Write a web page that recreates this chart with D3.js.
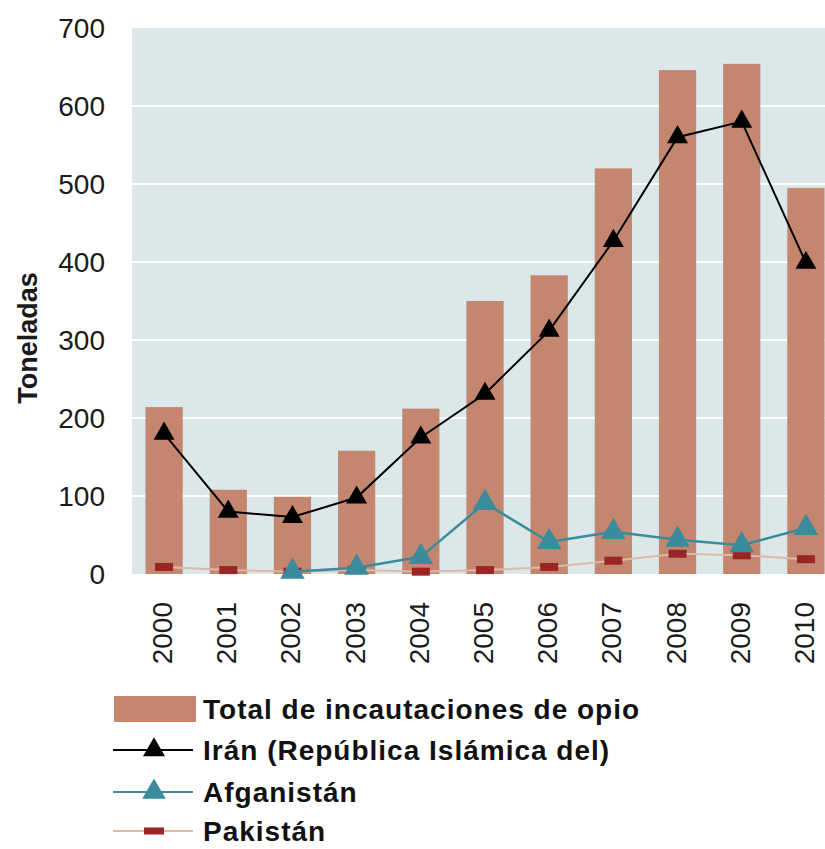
<!DOCTYPE html>
<html>
<head>
<meta charset="utf-8">
<script src="https://cdn.jsdelivr.net/npm/d3@7"></script>
<style>
  body { margin: 0; background: #fff; }
  text { font-family: "Liberation Sans", Arial, sans-serif; }
</style>
</head>
<body>
<div id="chart"></div>
<script>
// Data (toneladas)
var years = ["2000", "2001", "2002", "2003", "2004", "2005", "2006", "2007", "2008", "2009", "2010"];
var totalSeizures = [214, 108, 99, 158, 212, 350, 383, 520, 646, 654, 495];
var iran = [180, 80, 73, 98, 175, 231, 312, 427, 560, 580, 399];
var afghanistan = [null, null, 3, 8, 22, 91, 41, 54, 44, 37, 59];
var pakistan = [9, 5, 3, 5, 3, 5, 9, 17, 26, 24, 19];
var yTicks = [0, 100, 200, 300, 400, 500, 600, 700];
var legendLabels = ["Total de incautaciones de opio", "Irán (República Islámica del)", "Afganistán", "Pakistán"];

var width = 825, height = 849;
var plot = { left: 132, right: 838, top: 28, bottom: 574 };

var colBar = "#c4866e", colIran = "#000000", colAfg = "#3a8b9c",
    colPakLine = "#dcbaa9", colPakMark = "#9b2426", colBg = "#dbe7e9";

var svg = d3.select("#chart").append("svg")
    .attr("width", width)
    .attr("height", height);

var x = d3.scaleBand()
    .domain(years)
    .range([plot.left, plot.right])
    .paddingInner(0.42)
    .paddingOuter(0.21);

var y = d3.scaleLinear()
    .domain([0, 700])
    .range([plot.bottom, plot.top]);

var cx = function(i) { return x(years[i]) + x.bandwidth() / 2; };

// plot background
svg.append("rect")
    .attr("x", plot.left).attr("y", plot.top)
    .attr("width", plot.right - plot.left)
    .attr("height", plot.bottom - plot.top)
    .attr("fill", colBg);

// gridlines
svg.append("g").selectAll("line")
    .data(yTicks.filter(d => d > 0 && d < 700))
    .enter().append("line")
    .attr("x1", plot.left).attr("x2", plot.right)
    .attr("y1", d => y(d)).attr("y2", d => y(d))
    .attr("stroke", "#fff").attr("stroke-width", 2);

// y labels
svg.append("g").selectAll("text")
    .data(yTicks)
    .enter().append("text")
    .attr("x", 105)
    .attr("y", d => y(d))
    .attr("dy", "0.36em")
    .attr("text-anchor", "end")
    .attr("font-size", 28)
    .attr("fill", "#1a1a1a")
    .text(d => d);

svg.append("text")
    .attr("transform", "translate(37," + 338 + ") rotate(-90)")
    .attr("text-anchor", "middle")
    .attr("font-size", 27)
    .attr("font-weight", "bold")
    .attr("fill", "#1a1a1a")
    .text("Toneladas");

// x labels
svg.append("g").selectAll("text")
    .data(years)
    .enter().append("text")
    .attr("transform", d => "translate(" + (x(d) + x.bandwidth() / 2 + 8) + ",602) rotate(-90)")
    .attr("text-anchor", "end")
    .attr("font-size", 28)
    .attr("fill", "#1a1a1a")
    .text(d => d);

// bars
svg.append("g").selectAll("rect")
    .data(totalSeizures)
    .enter().append("rect")
    .attr("x", (d, i) => x(years[i]))
    .attr("y", d => y(d))
    .attr("width", x.bandwidth())
    .attr("height", d => y(0) - y(d))
    .attr("fill", colBar);

var line = d3.line()
    .defined(d => d.v != null)
    .x(d => cx(d.i))
    .y(d => y(d.v));

function toPts(arr) { return arr.map((v, i) => ({ v: v, i: i })); }

var tri = d3.symbol().type(d3.symbolTriangle);

// Pakistan
svg.append("path")
    .attr("d", line(toPts(pakistan)))
    .attr("fill", "none").attr("stroke", colPakLine).attr("stroke-width", 2);
svg.append("g").selectAll("rect")
    .data(toPts(pakistan))
    .enter().append("rect")
    .attr("x", d => cx(d.i) - 9).attr("y", d => y(d.v) - 4)
    .attr("width", 18).attr("height", 8)
    .attr("fill", colPakMark);

// Afghanistan
svg.append("path")
    .attr("d", line(toPts(afghanistan)))
    .attr("fill", "none").attr("stroke", colAfg).attr("stroke-width", 2.5);
svg.append("g").selectAll("path")
    .data(toPts(afghanistan).filter(d => d.v != null))
    .enter().append("path")
    .attr("d", tri.size(260))
    .attr("transform", d => "translate(" + cx(d.i) + "," + y(d.v) + ")")
    .attr("fill", colAfg);

// Iran
svg.append("path")
    .attr("d", line(toPts(iran)))
    .attr("fill", "none").attr("stroke", colIran).attr("stroke-width", 2);
svg.append("g").selectAll("path")
    .data(toPts(iran))
    .enter().append("path")
    .attr("d", tri.size(190))
    .attr("transform", d => "translate(" + cx(d.i) + "," + y(d.v) + ")")
    .attr("fill", colIran);

// legend
var legY = [709, 750, 792, 831];
var leg = svg.append("g");
leg.append("rect")
    .attr("x", 114).attr("y", legY[0] - 13)
    .attr("width", 82).attr("height", 26)
    .attr("fill", colBar);

var legLines = [
    { y: legY[1], stroke: colIran, mark: "tri", fill: colIran, size: 210 },
    { y: legY[2], stroke: colAfg, mark: "tri", fill: colAfg, size: 240 },
    { y: legY[3], stroke: colPakLine, mark: "rect", fill: colPakMark }
];
legLines.forEach(function(d) {
    leg.append("line")
        .attr("x1", 113).attr("x2", 193)
        .attr("y1", d.y).attr("y2", d.y)
        .attr("stroke", d.stroke).attr("stroke-width", 2);
    if (d.mark === "tri") {
        leg.append("path")
            .attr("d", d3.symbol().type(d3.symbolTriangle).size(d.size)())
            .attr("transform", "translate(154," + d.y + ")")
            .attr("fill", d.fill);
    } else {
        leg.append("rect")
            .attr("x", 144).attr("y", d.y - 3.5)
            .attr("width", 20).attr("height", 7)
            .attr("fill", d.fill);
    }
});

leg.selectAll("text.lbl")
    .data(legendLabels)
    .enter().append("text")
    .attr("class", "lbl")
    .attr("x", 203)
    .attr("y", (d, i) => legY[i])
    .attr("dy", "0.36em")
    .attr("font-size", 28)
    .attr("font-weight", "bold")
    .attr("letter-spacing", 1)
    .attr("fill", "#111")
    .text(d => d);
</script>
</body>
</html>
